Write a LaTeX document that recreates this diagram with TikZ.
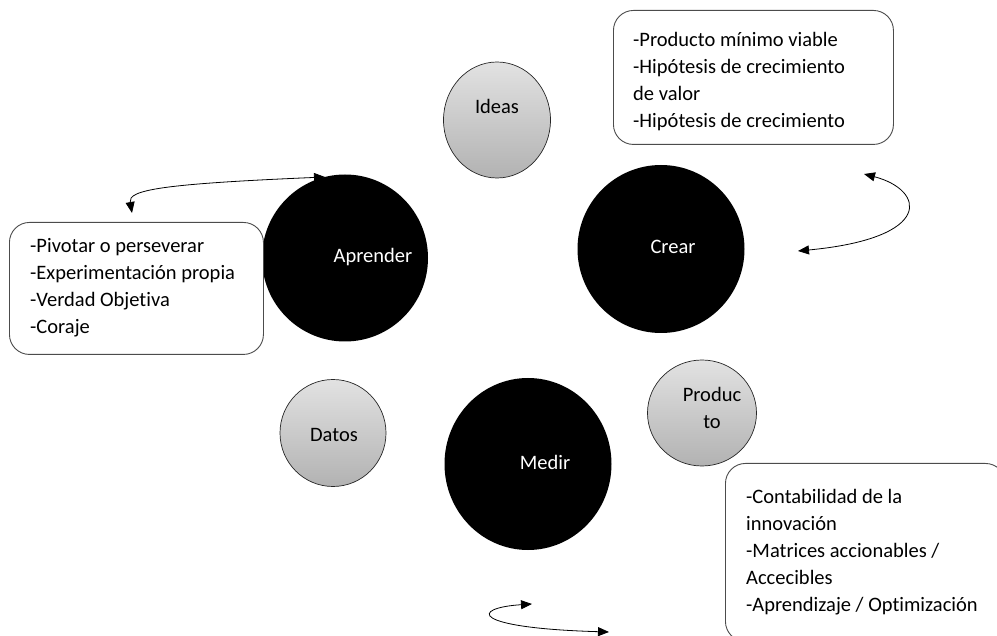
\documentclass[tikz,border=0pt]{standalone}
\usepackage{fontspec}
\setmainfont{Carlito}[Ligatures=NoCommon]
\usetikzlibrary{shapes.geometric,arrows.meta}
\definecolor{discTop}{HTML}{E2E2E2}
\definecolor{discBottom}{HTML}{B2B2B2}
\begin{document}
\begin{tikzpicture}[x=1pt,y=-1pt,
  txt/.style={font=\fontsize{20.5}{27}\selectfont},
  stage/.style={ellipse,fill=black,inner sep=0pt},
  stagetext/.style={txt,text=white,inner sep=0pt},
  phase/.style={ellipse,draw=black!85,line width=0.7pt,
    top color=discTop,bottom color=discBottom,inner sep=0pt},
  phasetext/.style={txt,inner sep=0pt,align=center},
  notebox/.style={draw=black!70,line width=0.9pt,rounded corners=20pt,
    fill=white,anchor=north west,inner sep=0pt},
  notetext/.style={txt,anchor=north west,align=left,inner sep=0pt}
]
\tikzset{loop/.style={line width=0.8pt,
    {Triangle[length=11pt,width=9pt]}-{Triangle[length=11pt,width=9pt]}}}
\useasboundingbox (0,0) rectangle (997,636);

% main cycle
\node[stage,minimum width=166pt,minimum height=167pt] (aprender) at (345,258) {};
\node[stagetext] (aprenderTxt) at (373,257) {Aprender};
\node[stage,minimum width=167pt,minimum height=168pt] (crear) at (661,249) {};
\node[stagetext] (crearTxt) at (673,247) {Crear};
\node[stage,minimum width=167pt,minimum height=172pt] (medir) at (528,464) {};
\node[stagetext] (medirTxt) at (545,462) {Medir};

% inputs and outputs
\node[phase,minimum width=107pt,minimum height=116pt] (ideas) at (497,120) {};
\node[phasetext] (ideasTxt) at (497,106) {Ideas};
\node[phase,minimum width=109pt,minimum height=106pt] (producto) at (702,413) {};
\node[phasetext] (productoTxt) at (712,408) {Produc\\to};
\node[phase,minimum width=106pt,minimum height=107pt] (datos) at (333,433) {};
\node[phasetext] (datosTxt) at (334,435) {Datos};

% notes
\node[notebox,minimum width=280pt,minimum height=134pt] (notaCrear) at (613,10) {};
\node[notetext] (notaCrearTxt) at (633,32)
  {-Producto mínimo viable\\-Hipótesis de crecimiento\\de valor\\-Hipótesis de crecimiento};
\node[notebox,minimum width=254pt,minimum height=132pt] (notaAprender) at (9,222) {};
\node[notetext] (notaAprenderTxt) at (30,238)
  {-Pivotar o perseverar\\-Experimentación propia\\-Verdad Objetiva\\-Coraje};
\node[notebox,minimum width=280pt,minimum height=178pt] (notaMedir) at (725,463) {};
\node[notetext] (notaMedirTxt) at (746,489)
  {-Contabilidad de la\\innovación\\-Matrices accionables /\\Accecibles\\-Aprendizaje / Optimización};

% feedback loops
\coordinate (a1) at (132,213);
\coordinate (a2) at (325,177);
\draw[loop] (a1) .. controls (128,190) and (160,184) .. (a2);
\coordinate (c1) at (864,174);
\coordinate (c2) at (798,251);
\draw[loop] (c1) .. controls (925,190) and (935,238) .. (c2);
\coordinate (m1) at (532,604);
\coordinate (m2) at (609,632);
\draw[loop] (m1) .. controls (470,608) and (470,628) .. (m2);
\end{tikzpicture}
\end{document}
